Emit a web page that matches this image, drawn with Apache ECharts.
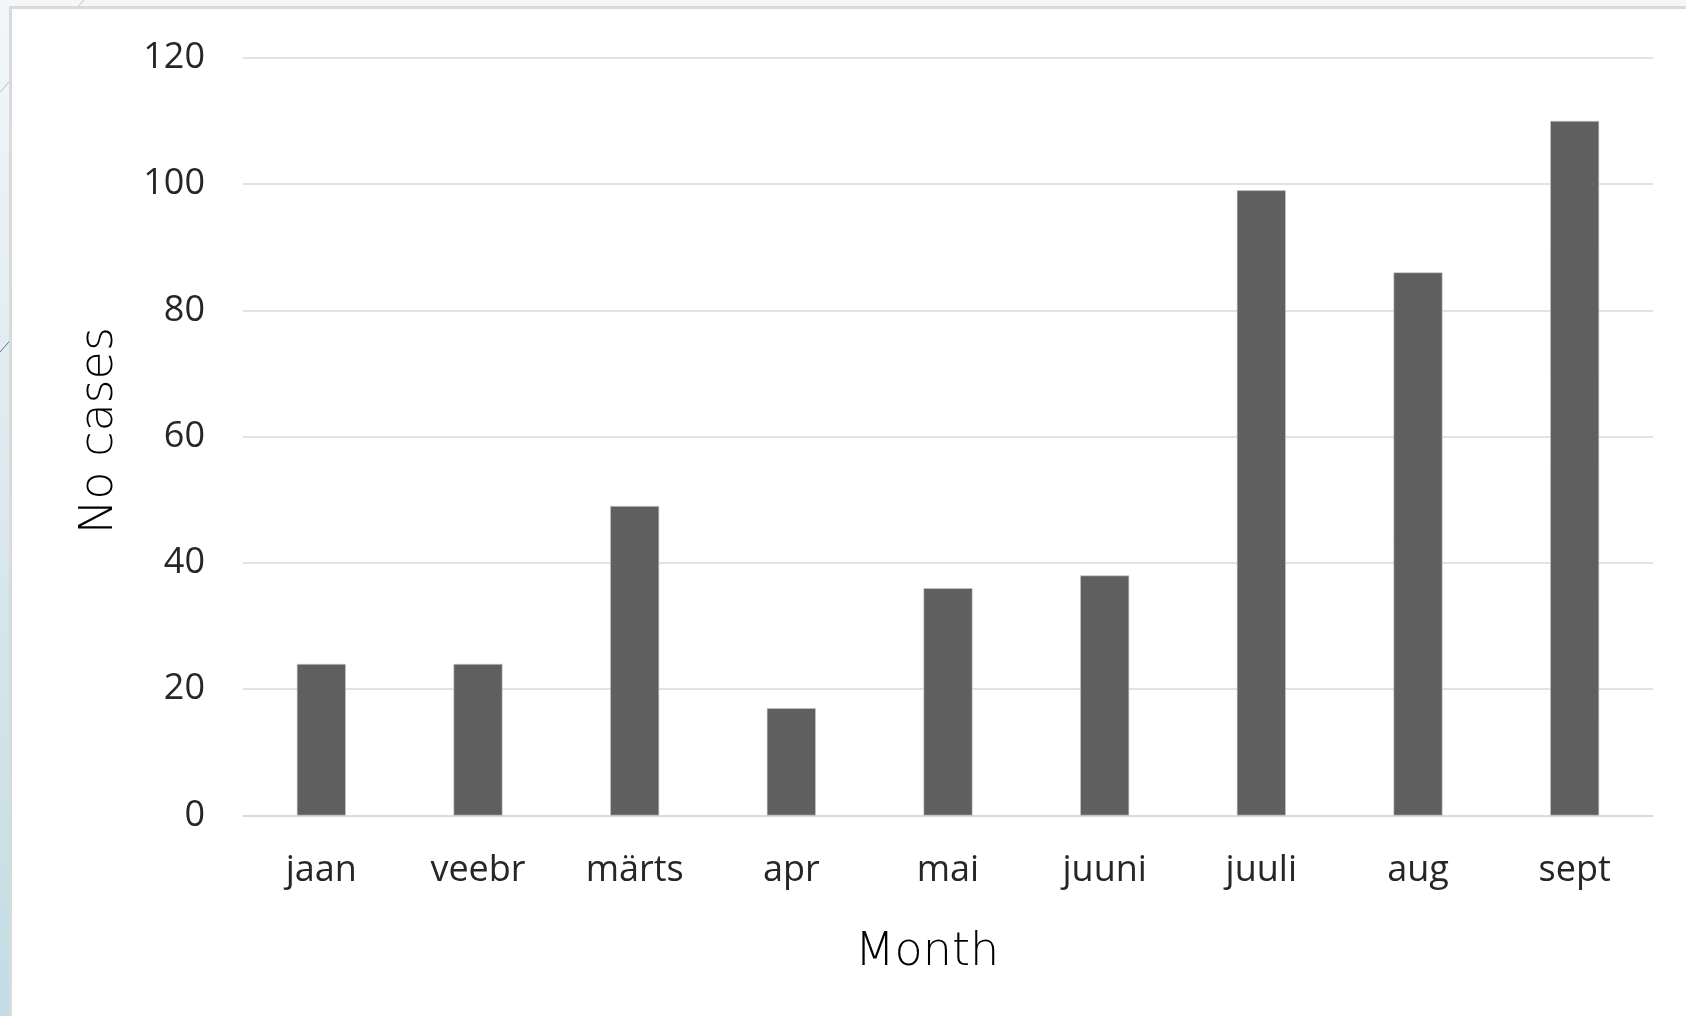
<!DOCTYPE html>
<html>
<head>
<meta charset="utf-8">
<title>No cases by month</title>
<script src="https://cdn.jsdelivr.net/npm/echarts@6/dist/echarts.min.js"></script>
<style>
  html, body { margin: 0; padding: 0; background: #f4f7f9; }
  #chart { width: 1686px; height: 1016px; }
</style>
</head>
<body>
<div id="chart"></div>
<script>
// Monthly case counts
const months = ['jaan', 'veebr', 'märts', 'apr', 'mai', 'juuni', 'juuli', 'aug', 'sept'];
const cases = [24, 24, 49, 17, 36, 38, 99, 86, 110];
const yTicks = [0, 20, 40, 60, 80, 100, 120];

const labelFont = '"Open Sans", "Noto Sans", sans-serif';
const titleFont = '"DejaVu Sans", sans-serif';

const chart = echarts.init(document.getElementById('chart'), null, { renderer: 'canvas' });

chart.setOption({
  backgroundColor: '#f4f7f9',
  animation: false,
  graphic: [
    // slide background: pale-blue strip on the left
    {
      type: 'rect', z: -10, silent: true,
      shape: { x: 0, y: 0, width: 14, height: 1016 },
      style: {
        fill: new echarts.graphic.LinearGradient(0, 0, 0, 1, [
          { offset: 0, color: '#f3f6f8' },
          { offset: 1, color: '#c3dbe3' }
        ])
      }
    },
    // thin decorative strokes behind the panel
    {
      type: 'line', z: -9, silent: true,
      shape: { x1: 84, y1: 0, x2: 0, y2: 92 },
      style: { stroke: '#a9c4cf', lineWidth: 1 }
    },
    {
      type: 'line', z: -9, silent: true,
      shape: { x1: 0, y1: 352, x2: 30, y2: 318 },
      style: { stroke: '#4f7f96', lineWidth: 1 }
    },
    // white chart panel with grey frame
    {
      type: 'rect', z: -8, silent: true,
      shape: { x: 10.5, y: 7.5, width: 1690, height: 1020 },
      style: { fill: '#ffffff', stroke: '#d9d9d9', lineWidth: 3 }
    }
  ],
  grid: {
    left: 243,
    right: 33,
    top: 57.7,
    bottom: 200.5,
    containLabel: false
  },
  xAxis: {
    type: 'category',
    data: months,
    axisTick: { show: false },
    axisLine: { show: true, lineStyle: { color: '#d9d9d9', width: 1.5 } },
    axisLabel: {
      color: '#262626',
      fontFamily: labelFont,
      fontSize: 36,
      margin: 37
    },
    name: 'Month',
    nameLocation: 'middle',
    nameGap: 115,
    nameTextStyle: {
      color: '#000000',
      fontFamily: titleFont,
      fontWeight: 200,
      fontSize: 46,
      padding: [0, 42, 0, 0]
    }
  },
  yAxis: {
    type: 'value',
    min: 0,
    max: 120,
    interval: 20,
    axisLine: { show: false },
    axisTick: { show: false },
    splitLine: { show: true, lineStyle: { color: '#d9d9d9', width: 1.5 } },
    axisLabel: {
      color: '#262626',
      fontFamily: labelFont,
      fontSize: 36,
      margin: 38,
      customValues: yTicks
    },
    name: 'No cases',
    nameLocation: 'middle',
    nameRotate: 90,
    nameGap: 120,
    nameTextStyle: {
      color: '#000000',
      fontFamily: titleFont,
      fontWeight: 200,
      fontSize: 46,
      padding: [0, 0, 0, 12]
    }
  },
  series: [{
    type: 'bar',
    data: cases,
    barWidth: 49,
    itemStyle: {
      color: '#5f5f5f',
      borderColor: '#cfcfcf',
      borderWidth: 0.6
    }
  }]
});
</script>
</body>
</html>
